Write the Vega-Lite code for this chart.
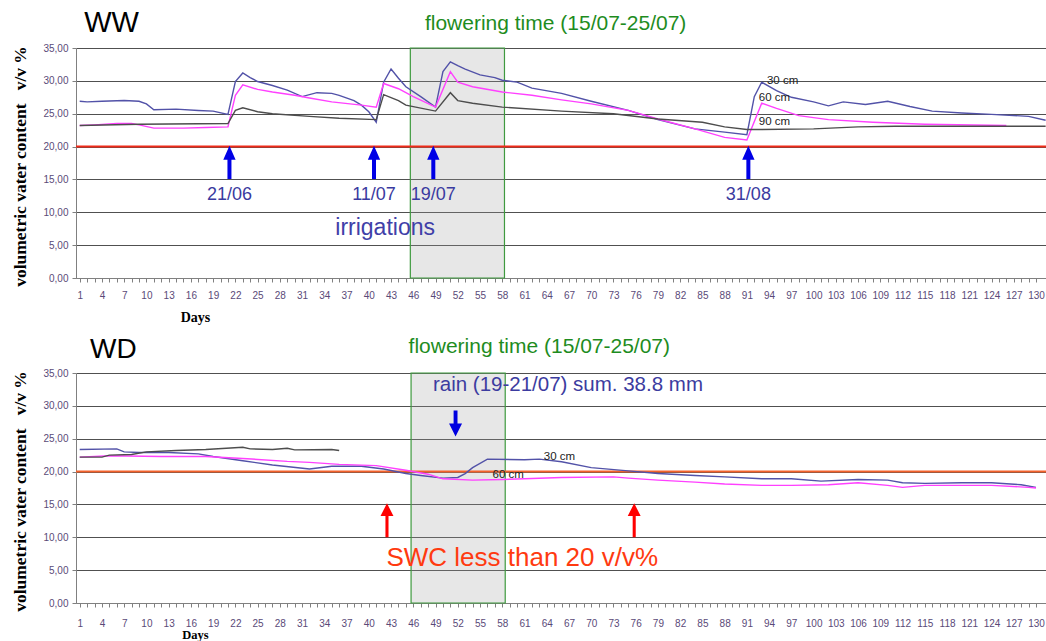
{
  "$schema": "https://vega.github.io/schema/vega-lite/v6.json",
  "background": "white",
  "padding": {"left": 10, "top": 9, "right": 0, "bottom": 0},
  "spacing": 11,
  "config": {
    "view": {"stroke": null},
    "axis": {
      "labelFont": "Liberation Sans", "labelFontSize": 10, "labelColor": "#5a4a78",
      "domainColor": "#808080", "tickColor": "#808080", "tickSize": 4,
      "gridColor": "#505050", "gridWidth": 1,
      "titleFont": "Liberation Serif", "titleFontWeight": "bold", "titleColor": "#000000"
    },
    "text": {"font": "Liberation Sans"}
  },
  "datasets": {
    "ww": [
      {"depth": "30 cm", "day": 1, "v": 26.9}, {"depth": "30 cm", "day": 2, "v": 26.8}, {"depth": "30 cm", "day": 4, "v": 26.9}, {"depth": "30 cm", "day": 7, "v": 27.0}, {"depth": "30 cm", "day": 9, "v": 26.9}, {"depth": "30 cm", "day": 10, "v": 26.5}, {"depth": "30 cm", "day": 11, "v": 25.6}, {"depth": "30 cm", "day": 14, "v": 25.7}, {"depth": "30 cm", "day": 17, "v": 25.5}, {"depth": "30 cm", "day": 19, "v": 25.4}, {"depth": "30 cm", "day": 21, "v": 24.9}, {"depth": "30 cm", "day": 22, "v": 29.9}, {"depth": "30 cm", "day": 23, "v": 31.2}, {"depth": "30 cm", "day": 24, "v": 30.5}, {"depth": "30 cm", "day": 25, "v": 29.9}, {"depth": "30 cm", "day": 27, "v": 29.3}, {"depth": "30 cm", "day": 29, "v": 28.6}, {"depth": "30 cm", "day": 31, "v": 27.6}, {"depth": "30 cm", "day": 33, "v": 28.2}, {"depth": "30 cm", "day": 35, "v": 28.1}, {"depth": "30 cm", "day": 36, "v": 27.8}, {"depth": "30 cm", "day": 38, "v": 27.0}, {"depth": "30 cm", "day": 39, "v": 26.3}, {"depth": "30 cm", "day": 40, "v": 25.3}, {"depth": "30 cm", "day": 41, "v": 23.7}, {"depth": "30 cm", "day": 42, "v": 29.8}, {"depth": "30 cm", "day": 43, "v": 31.8}, {"depth": "30 cm", "day": 44, "v": 30.4}, {"depth": "30 cm", "day": 45, "v": 29.1}, {"depth": "30 cm", "day": 47, "v": 27.6}, {"depth": "30 cm", "day": 49, "v": 26.0}, {"depth": "30 cm", "day": 50, "v": 31.4}, {"depth": "30 cm", "day": 51, "v": 32.9}, {"depth": "30 cm", "day": 52, "v": 32.3}, {"depth": "30 cm", "day": 53, "v": 31.8}, {"depth": "30 cm", "day": 55, "v": 30.9}, {"depth": "30 cm", "day": 57, "v": 30.5}, {"depth": "30 cm", "day": 58, "v": 30.1}, {"depth": "30 cm", "day": 60, "v": 29.8}, {"depth": "30 cm", "day": 62, "v": 28.9}, {"depth": "30 cm", "day": 66, "v": 28.1}, {"depth": "30 cm", "day": 70, "v": 26.9}, {"depth": "30 cm", "day": 75, "v": 25.5}, {"depth": "30 cm", "day": 79, "v": 24.1}, {"depth": "30 cm", "day": 84, "v": 22.7}, {"depth": "30 cm", "day": 88, "v": 22.2}, {"depth": "30 cm", "day": 91, "v": 21.8}, {"depth": "30 cm", "day": 92, "v": 27.6}, {"depth": "30 cm", "day": 93, "v": 29.8}, {"depth": "30 cm", "day": 95, "v": 28.5}, {"depth": "30 cm", "day": 97, "v": 27.5}, {"depth": "30 cm", "day": 100, "v": 26.8}, {"depth": "30 cm", "day": 102, "v": 26.2}, {"depth": "30 cm", "day": 104, "v": 26.8}, {"depth": "30 cm", "day": 107, "v": 26.4}, {"depth": "30 cm", "day": 110, "v": 26.9}, {"depth": "30 cm", "day": 113, "v": 26.1}, {"depth": "30 cm", "day": 116, "v": 25.4}, {"depth": "30 cm", "day": 120, "v": 25.1}, {"depth": "30 cm", "day": 124, "v": 24.9}, {"depth": "30 cm", "day": 129, "v": 24.6}, {"depth": "30 cm", "day": 131.3, "v": 24.0},
      {"depth": "60 cm", "day": 1, "v": 23.2}, {"depth": "60 cm", "day": 3, "v": 23.3}, {"depth": "60 cm", "day": 6, "v": 23.5}, {"depth": "60 cm", "day": 8, "v": 23.5}, {"depth": "60 cm", "day": 9, "v": 23.3}, {"depth": "60 cm", "day": 11, "v": 22.8}, {"depth": "60 cm", "day": 15, "v": 22.8}, {"depth": "60 cm", "day": 18, "v": 22.9}, {"depth": "60 cm", "day": 21, "v": 23.0}, {"depth": "60 cm", "day": 22, "v": 27.8}, {"depth": "60 cm", "day": 23, "v": 29.4}, {"depth": "60 cm", "day": 25, "v": 28.7}, {"depth": "60 cm", "day": 27, "v": 28.3}, {"depth": "60 cm", "day": 30, "v": 27.8}, {"depth": "60 cm", "day": 32, "v": 27.4}, {"depth": "60 cm", "day": 35, "v": 26.8}, {"depth": "60 cm", "day": 39, "v": 26.3}, {"depth": "60 cm", "day": 41, "v": 26.0}, {"depth": "60 cm", "day": 42, "v": 29.6}, {"depth": "60 cm", "day": 44, "v": 28.8}, {"depth": "60 cm", "day": 46, "v": 27.6}, {"depth": "60 cm", "day": 49, "v": 26.0}, {"depth": "60 cm", "day": 51, "v": 31.4}, {"depth": "60 cm", "day": 52, "v": 29.8}, {"depth": "60 cm", "day": 54, "v": 29.1}, {"depth": "60 cm", "day": 58, "v": 28.3}, {"depth": "60 cm", "day": 62, "v": 27.8}, {"depth": "60 cm", "day": 66, "v": 27.1}, {"depth": "60 cm", "day": 70, "v": 26.5}, {"depth": "60 cm", "day": 75, "v": 25.5}, {"depth": "60 cm", "day": 79, "v": 24.2}, {"depth": "60 cm", "day": 84, "v": 22.7}, {"depth": "60 cm", "day": 88, "v": 21.4}, {"depth": "60 cm", "day": 91, "v": 21.0}, {"depth": "60 cm", "day": 93, "v": 26.6}, {"depth": "60 cm", "day": 95, "v": 25.8}, {"depth": "60 cm", "day": 98, "v": 24.7}, {"depth": "60 cm", "day": 102, "v": 24.1}, {"depth": "60 cm", "day": 108, "v": 23.7}, {"depth": "60 cm", "day": 115, "v": 23.4}, {"depth": "60 cm", "day": 126, "v": 23.2},
      {"depth": "90 cm", "day": 1, "v": 23.2}, {"depth": "90 cm", "day": 9, "v": 23.4}, {"depth": "90 cm", "day": 21, "v": 23.5}, {"depth": "90 cm", "day": 22, "v": 25.5}, {"depth": "90 cm", "day": 23, "v": 25.9}, {"depth": "90 cm", "day": 25, "v": 25.3}, {"depth": "90 cm", "day": 27, "v": 25.0}, {"depth": "90 cm", "day": 32, "v": 24.6}, {"depth": "90 cm", "day": 36, "v": 24.3}, {"depth": "90 cm", "day": 41, "v": 24.1}, {"depth": "90 cm", "day": 42, "v": 27.9}, {"depth": "90 cm", "day": 44, "v": 27.0}, {"depth": "90 cm", "day": 45, "v": 26.3}, {"depth": "90 cm", "day": 49, "v": 25.4}, {"depth": "90 cm", "day": 51, "v": 28.2}, {"depth": "90 cm", "day": 52, "v": 27.0}, {"depth": "90 cm", "day": 54, "v": 26.6}, {"depth": "90 cm", "day": 58, "v": 26.0}, {"depth": "90 cm", "day": 66, "v": 25.4}, {"depth": "90 cm", "day": 73, "v": 25.0}, {"depth": "90 cm", "day": 79, "v": 24.2}, {"depth": "90 cm", "day": 85, "v": 23.7}, {"depth": "90 cm", "day": 88, "v": 23.0}, {"depth": "90 cm", "day": 91, "v": 22.6}, {"depth": "90 cm", "day": 93, "v": 22.6}, {"depth": "90 cm", "day": 100, "v": 22.7}, {"depth": "90 cm", "day": 106, "v": 23.0}, {"depth": "90 cm", "day": 111, "v": 23.1}, {"depth": "90 cm", "day": 131.3, "v": 23.1}
    ],
    "wd": [
      {"depth": "30 cm", "day": 1, "v": 23.35}, {"depth": "30 cm", "day": 6, "v": 23.45}, {"depth": "30 cm", "day": 7, "v": 23.0}, {"depth": "30 cm", "day": 9, "v": 22.9}, {"depth": "30 cm", "day": 13, "v": 22.9}, {"depth": "30 cm", "day": 17, "v": 22.7}, {"depth": "30 cm", "day": 19, "v": 22.3}, {"depth": "30 cm", "day": 23, "v": 21.65}, {"depth": "30 cm", "day": 27, "v": 21.0}, {"depth": "30 cm", "day": 32, "v": 20.4}, {"depth": "30 cm", "day": 35, "v": 20.8}, {"depth": "30 cm", "day": 39, "v": 20.8}, {"depth": "30 cm", "day": 42, "v": 20.4}, {"depth": "30 cm", "day": 45, "v": 19.7}, {"depth": "30 cm", "day": 47, "v": 19.4}, {"depth": "30 cm", "day": 50, "v": 19.0}, {"depth": "30 cm", "day": 52, "v": 19.1}, {"depth": "30 cm", "day": 53, "v": 19.7}, {"depth": "30 cm", "day": 54, "v": 20.6}, {"depth": "30 cm", "day": 56, "v": 21.9}, {"depth": "30 cm", "day": 61, "v": 21.8}, {"depth": "30 cm", "day": 63, "v": 21.9}, {"depth": "30 cm", "day": 66, "v": 21.5}, {"depth": "30 cm", "day": 70, "v": 20.6}, {"depth": "30 cm", "day": 75, "v": 20.1}, {"depth": "30 cm", "day": 79, "v": 19.7}, {"depth": "30 cm", "day": 84, "v": 19.4}, {"depth": "30 cm", "day": 88, "v": 19.2}, {"depth": "30 cm", "day": 93, "v": 18.9}, {"depth": "30 cm", "day": 97, "v": 18.9}, {"depth": "30 cm", "day": 101, "v": 18.55}, {"depth": "30 cm", "day": 106, "v": 18.8}, {"depth": "30 cm", "day": 110, "v": 18.7}, {"depth": "30 cm", "day": 112, "v": 18.3}, {"depth": "30 cm", "day": 115, "v": 18.2}, {"depth": "30 cm", "day": 120, "v": 18.3}, {"depth": "30 cm", "day": 124, "v": 18.3}, {"depth": "30 cm", "day": 128, "v": 18.0}, {"depth": "30 cm", "day": 130, "v": 17.6},
      {"depth": "60 cm", "day": 1, "v": 22.2}, {"depth": "60 cm", "day": 5, "v": 22.4}, {"depth": "60 cm", "day": 12, "v": 22.3}, {"depth": "60 cm", "day": 18, "v": 22.3}, {"depth": "60 cm", "day": 23, "v": 22.0}, {"depth": "60 cm", "day": 29, "v": 21.55}, {"depth": "60 cm", "day": 32, "v": 21.4}, {"depth": "60 cm", "day": 36, "v": 21.1}, {"depth": "60 cm", "day": 41, "v": 20.9}, {"depth": "60 cm", "day": 45, "v": 20.2}, {"depth": "60 cm", "day": 48, "v": 19.6}, {"depth": "60 cm", "day": 50, "v": 18.9}, {"depth": "60 cm", "day": 54, "v": 18.7}, {"depth": "60 cm", "day": 58, "v": 18.8}, {"depth": "60 cm", "day": 61, "v": 18.9}, {"depth": "60 cm", "day": 66, "v": 19.1}, {"depth": "60 cm", "day": 73, "v": 19.2}, {"depth": "60 cm", "day": 75, "v": 19.0}, {"depth": "60 cm", "day": 79, "v": 18.7}, {"depth": "60 cm", "day": 84, "v": 18.4}, {"depth": "60 cm", "day": 88, "v": 18.1}, {"depth": "60 cm", "day": 93, "v": 17.9}, {"depth": "60 cm", "day": 97, "v": 17.9}, {"depth": "60 cm", "day": 102, "v": 18.0}, {"depth": "60 cm", "day": 106, "v": 18.3}, {"depth": "60 cm", "day": 110, "v": 17.9}, {"depth": "60 cm", "day": 112, "v": 17.6}, {"depth": "60 cm", "day": 115, "v": 17.9}, {"depth": "60 cm", "day": 120, "v": 17.9}, {"depth": "60 cm", "day": 124, "v": 17.9}, {"depth": "60 cm", "day": 129, "v": 17.6}, {"depth": "60 cm", "day": 130, "v": 17.5},
      {"depth": "90 cm", "day": 1, "v": 22.2}, {"depth": "90 cm", "day": 4, "v": 22.2}, {"depth": "90 cm", "day": 5, "v": 22.5}, {"depth": "90 cm", "day": 8, "v": 22.6}, {"depth": "90 cm", "day": 10, "v": 23.0}, {"depth": "90 cm", "day": 14, "v": 23.2}, {"depth": "90 cm", "day": 18, "v": 23.35}, {"depth": "90 cm", "day": 23, "v": 23.7}, {"depth": "90 cm", "day": 24, "v": 23.45}, {"depth": "90 cm", "day": 27, "v": 23.35}, {"depth": "90 cm", "day": 29, "v": 23.55}, {"depth": "90 cm", "day": 30, "v": 23.3}, {"depth": "90 cm", "day": 35, "v": 23.35}, {"depth": "90 cm", "day": 36, "v": 23.2}
    ]
  },
  "vconcat": [
    {
      "width": 970,
      "height": 230,
      "layer": [
        {
          "data": {"values": [{"start": 45.6, "end": 58.3}]},
          "mark": {"type": "rect", "fill": "#a0a0a0", "fillOpacity": 0.25, "stroke": "#3f9a3f", "strokeWidth": 1.2},
          "encoding": {
            "x": {"field": "start", "type": "quantitative"},
            "x2": {"field": "end"},
            "y": {"datum": 0, "type": "quantitative"},
            "y2": {"datum": 35}
          }
        },
        {
          "data": {"values": [{"threshold": 20}]},
          "mark": {"type": "rule", "color": "#f02a18", "strokeWidth": 2},
          "encoding": {"y": {"field": "threshold", "type": "quantitative"}}
        },
        {
          "data": {"name": "ww"},
          "mark": {"type": "line", "strokeWidth": 1.4},
          "encoding": {
            "x": {"field": "day", "type": "quantitative", "scale": {"domain": [0.5, 131.35], "nice": false, "zero": false},
              "axis": {"title": "Days", "tickCount": 500, "values": [1,2,3,4,5,6,7,8,9,10,11,12,13,14,15,16,17,18,19,20,21,22,23,24,25,26,27,28,29,30,31,32,33,34,35,36,37,38,39,40,41,42,43,44,45,46,47,48,49,50,51,52,53,54,55,56,57,58,59,60,61,62,63,64,65,66,67,68,69,70,71,72,73,74,75,76,77,78,79,80,81,82,83,84,85,86,87,88,89,90,91,92,93,94,95,96,97,98,99,100,101,102,103,104,105,106,107,108,109,110,111,112,113,114,115,116,117,118,119,120,121,122,123,124,125,126,127,128,129,130],
                "labelExpr": "(datum.value - 1) % 3 == 0 ? format(datum.value, 'd') : ''", "labelOverlap": false, "labelFlush": false, "labelPadding": 8, "grid": false,
                "titleX": 119, "titleY": 39, "titleBaseline": "middle", "titleAlign": "center", "titleFontSize": 14}},
            "y": {"field": "v", "type": "quantitative", "scale": {"domain": [0, 35], "nice": false},
              "axis": {"title": "volumetric vater content\u00a0\u00a0\u00a0v/v %", "tickCount": 50, "values": [0, 5, 10, 15, 20, 25, 30, 35],
                "labelExpr": "replace(format(datum.value, '.2f'), '.', ',')", "grid": true, "labelPadding": 4,
                "titleX": -56, "titleY": 118, "titleAngle": 270, "titleBaseline": "middle", "titleAlign": "center", "titleFontSize": 17.5}},
            "color": {"field": "depth", "type": "nominal", "scale": {"domain": ["30 cm", "60 cm", "90 cm"], "range": ["#5252a8", "#ff40ff", "#4d4d4d"]}, "legend": null}
          }
        },
        {
          "data": {"values": [{"day": 21.2, "label": "21/06"}, {"day": 40.7, "label": "11/07"}, {"day": 48.7, "label": "19/07"}, {"day": 91.2, "label": "31/08"}]},
          "layer": [
            {
              "mark": {"type": "point", "filled": true, "opacity": 1, "strokeWidth": 0, "color": "#0000e6", "size": 1110,
                "shape": "M0,-1L-0.37,-0.16L-0.12,-0.16L-0.12,1L0.12,1L0.12,-0.16L0.37,-0.16Z"},
              "encoding": {"x": {"field": "day", "type": "quantitative"}, "y": {"datum": 17.6, "type": "quantitative"}}
            },
            {
              "mark": {"type": "text", "fontSize": 18, "color": "#3a3aa0", "align": "center", "baseline": "middle"},
              "encoding": {"x": {"field": "day", "type": "quantitative"}, "y": {"datum": 12.7, "type": "quantitative"}, "text": {"field": "label"}}
            }
          ]
        },
        {
          "data": {"values": [{"label": "irrigations"}]},
          "mark": {"type": "text", "fontSize": 23, "color": "#4040a8", "align": "center", "baseline": "middle"},
          "encoding": {"x": {"datum": 42.2, "type": "quantitative"}, "y": {"datum": 7.6, "type": "quantitative"}, "text": {"field": "label"}}
        },
        {
          "data": {"values": [{"label": "30 cm", "day": 93.7, "v": 30.0}, {"label": "60 cm", "day": 92.6, "v": 27.4}, {"label": "90 cm", "day": 92.6, "v": 23.7}]},
          "mark": {"type": "text", "fontSize": 11.5, "color": "#222222", "align": "left", "baseline": "middle"},
          "encoding": {"x": {"field": "day", "type": "quantitative"}, "y": {"field": "v", "type": "quantitative"}, "text": {"field": "label"}}
        },
        {
          "data": {"values": [{"label": "WW"}]},
          "mark": {"type": "text", "fontSize": 29, "color": "#000000", "align": "left", "baseline": "middle"},
          "encoding": {"x": {"datum": 1.6, "type": "quantitative"}, "y": {"datum": 38.8, "type": "quantitative"}, "text": {"field": "label"}}
        },
        {
          "data": {"values": [{"label": "flowering time (15/07-25/07)"}]},
          "mark": {"type": "text", "fontSize": 21, "color": "#1e8c1e", "align": "center", "baseline": "middle"},
          "encoding": {"x": {"datum": 65.2, "type": "quantitative"}, "y": {"datum": 38.7, "type": "quantitative"}, "text": {"field": "label"}}
        }
      ]
    },
    {
      "width": 970,
      "height": 230,
      "layer": [
        {
          "data": {"values": [{"start": 45.7, "end": 58.4}]},
          "mark": {"type": "rect", "fill": "#a0a0a0", "fillOpacity": 0.25, "stroke": "#3f9a3f", "strokeWidth": 1.2},
          "encoding": {
            "x": {"field": "start", "type": "quantitative"},
            "x2": {"field": "end"},
            "y": {"datum": 0, "type": "quantitative"},
            "y2": {"datum": 35}
          }
        },
        {
          "data": {"values": [{"threshold": 20}]},
          "mark": {"type": "rule", "color": "#f4622c", "strokeWidth": 2},
          "encoding": {"y": {"field": "threshold", "type": "quantitative"}}
        },
        {
          "data": {"name": "wd"},
          "mark": {"type": "line", "strokeWidth": 1.4},
          "encoding": {
            "x": {"field": "day", "type": "quantitative", "scale": {"domain": [0.5, 131.35], "nice": false, "zero": false},
              "axis": {"title": "Days", "tickCount": 500, "values": [1,2,3,4,5,6,7,8,9,10,11,12,13,14,15,16,17,18,19,20,21,22,23,24,25,26,27,28,29,30,31,32,33,34,35,36,37,38,39,40,41,42,43,44,45,46,47,48,49,50,51,52,53,54,55,56,57,58,59,60,61,62,63,64,65,66,67,68,69,70,71,72,73,74,75,76,77,78,79,80,81,82,83,84,85,86,87,88,89,90,91,92,93,94,95,96,97,98,99,100,101,102,103,104,105,106,107,108,109,110,111,112,113,114,115,116,117,118,119,120,121,122,123,124,125,126,127,128,129,130],
                "labelExpr": "(datum.value - 1) % 3 == 0 ? format(datum.value, 'd') : ''", "labelOverlap": false, "labelFlush": false, "labelPadding": 11, "grid": false,
                "titleX": 119, "titleY": 31.5, "titleBaseline": "middle", "titleAlign": "center", "titleFontSize": 12.5}},
            "y": {"field": "v", "type": "quantitative", "scale": {"domain": [0, 35], "nice": false},
              "axis": {"title": "volumetric vater content\u00a0\u00a0\u00a0v/v %", "tickCount": 50, "values": [0, 5, 10, 15, 20, 25, 30, 35],
                "labelExpr": "replace(format(datum.value, '.2f'), '.', ',')", "grid": true, "labelPadding": 4,
                "titleX": -56, "titleY": 118, "titleAngle": 270, "titleBaseline": "middle", "titleAlign": "center", "titleFontSize": 17.5}},
            "color": {"field": "depth", "type": "nominal", "scale": {"domain": ["30 cm", "60 cm", "90 cm"], "range": ["#5252a8", "#ff40ff", "#606060"]}, "legend": null}
          }
        },
        {
          "data": {"values": [{"label": "rain"}]},
          "mark": {"type": "point", "filled": true, "opacity": 1, "strokeWidth": 0, "color": "#0000e0", "size": 676,
            "shape": "M0,1L-0.5,0L-0.15,0L-0.15,-1L0.15,-1L0.15,0L0.5,0Z"},
          "encoding": {"x": {"datum": 51.7, "type": "quantitative"}, "y": {"datum": 27.3, "type": "quantitative"}}
        },
        {
          "data": {"values": [{"day": 42.45}, {"day": 75.8}]},
          "mark": {"type": "point", "filled": true, "opacity": 1, "strokeWidth": 0, "color": "#ff0000", "size": 1156,
            "shape": "M0,-1L-0.38,-0.24L-0.09,-0.24L-0.09,1L0.09,1L0.09,-0.24L0.38,-0.24Z"},
          "encoding": {"x": {"field": "day", "type": "quantitative"}, "y": {"datum": 12.6, "type": "quantitative"}}
        },
        {
          "data": {"values": [{"label": "rain (19-21/07) sum. 38.8 mm"}]},
          "mark": {"type": "text", "fontSize": 20.5, "color": "#3c3ca0", "align": "left", "baseline": "middle"},
          "encoding": {"x": {"datum": 48.65, "type": "quantitative"}, "y": {"datum": 33.1, "type": "quantitative"}, "text": {"field": "label"}}
        },
        {
          "data": {"values": [{"label": "SWC less than 20 v/v%"}]},
          "mark": {"type": "text", "fontSize": 26, "color": "#ff3a10", "align": "center", "baseline": "middle"},
          "encoding": {"x": {"datum": 60.7, "type": "quantitative"}, "y": {"datum": 6.8, "type": "quantitative"}, "text": {"field": "label"}}
        },
        {
          "data": {"values": [{"label": "30 cm", "day": 63.6, "v": 22.2}, {"label": "60 cm", "day": 56.7, "v": 19.5}]},
          "mark": {"type": "text", "fontSize": 11.5, "color": "#222222", "align": "left", "baseline": "middle"},
          "encoding": {"x": {"field": "day", "type": "quantitative"}, "y": {"field": "v", "type": "quantitative"}, "text": {"field": "label"}}
        },
        {
          "data": {"values": [{"label": "WD"}]},
          "mark": {"type": "text", "fontSize": 28, "color": "#000000", "align": "left", "baseline": "middle"},
          "encoding": {"x": {"datum": 2.4, "type": "quantitative"}, "y": {"datum": 38.5, "type": "quantitative"}, "text": {"field": "label"}}
        },
        {
          "data": {"values": [{"label": "flowering time (15/07-25/07)"}]},
          "mark": {"type": "text", "fontSize": 21, "color": "#1e8c1e", "align": "center", "baseline": "middle"},
          "encoding": {"x": {"datum": 63.0, "type": "quantitative"}, "y": {"datum": 38.9, "type": "quantitative"}, "text": {"field": "label"}}
        }
      ]
    }
  ]
}
